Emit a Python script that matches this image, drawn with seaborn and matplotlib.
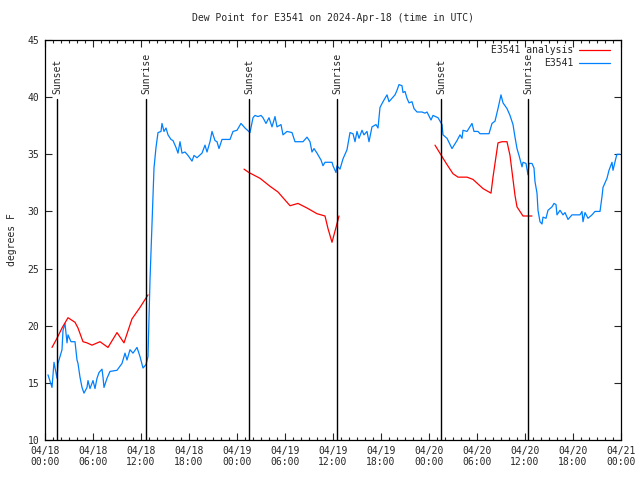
import numpy as np
import pandas as pd
import matplotlib
matplotlib.use("Agg")
import matplotlib.pyplot as plt
from matplotlib.lines import Line2D
import seaborn as sns

# ---- data (hours since 2024-04-18 00:00 UTC) ----
obs_hours = [0.375, 0.875, 1.125, 1.5, 1.625, 2.125, 2.25, 2.5, 2.75, 2.875, 3.25, 3.75, 4.0, 4.125,
             4.375, 4.625, 4.875, 5.25, 5.375, 5.625, 6.0, 6.25, 6.5, 6.75, 7.125, 7.25, 7.375, 7.75,
             8.125, 9.0, 9.625, 10.0, 10.25, 10.625, 11.0, 11.5, 11.875, 12.25, 12.625, 12.875, 13.125,
             13.5, 13.625, 13.875, 14.125, 14.5, 14.625, 14.875, 15.125, 15.375, 15.75, 16.0, 16.375,
             16.625, 16.875, 17.125, 17.5, 17.875, 18.375, 18.625, 19.0, 19.625, 20.0, 20.25, 20.625,
             20.875, 21.25, 21.5, 21.75, 22.125, 23.125, 23.5, 24.0, 24.5, 25.0, 25.625, 26.0, 26.25,
             26.625, 27.0, 27.25, 27.625, 28.0, 28.375, 28.75, 29.0, 29.5, 29.75, 30.25, 30.875, 31.25,
             32.25, 32.75, 33.125, 33.375, 33.625, 34.0, 34.5, 34.75, 35.0, 35.875, 36.0, 36.375, 36.5,
             36.875, 37.25, 37.75, 38.125, 38.5, 38.75, 39.0, 39.25, 39.625, 39.875, 40.25, 40.5, 40.875,
             41.375, 41.625, 41.875, 42.25, 42.75, 43.0, 43.5, 43.75, 44.0, 44.25, 44.625, 44.75, 45.0,
             45.25, 45.5, 45.875, 46.125, 46.5, 47.125, 47.5, 47.75, 48.25, 48.5, 49.125, 49.625, 49.75,
             50.25, 50.875, 51.5, 51.875, 52.125, 52.25, 52.75, 53.375, 53.625, 54.125, 54.375, 55.5,
             55.875, 56.25, 56.625, 57.0, 57.25, 57.75, 58.125, 58.5, 58.75, 59.0, 59.25, 59.625, 59.75,
             60.125, 60.375, 60.5, 60.875, 61.125, 61.25, 61.5, 61.625, 61.875, 62.125, 62.25, 62.625,
             62.875, 63.375, 63.625, 63.875, 64.0, 64.375, 64.75, 65.0, 65.375, 65.875, 66.875, 67.125,
             67.25, 67.5, 67.875, 68.375, 68.75, 69.375, 69.625, 69.75, 70.25, 70.5, 70.875, 71.0,
             71.375, 71.5, 71.875]
obs_dewpt = [15.7, 14.6, 16.8, 15.4, 16.7, 17.9, 19.6, 20.2, 18.5, 19.2, 18.6, 18.6, 17.0, 16.7,
             15.5, 14.6, 14.1, 14.6, 15.2, 14.5, 15.2, 14.5, 15.4, 15.9, 16.2, 15.5, 14.6, 15.4,
             16.0, 16.1, 16.7, 17.6, 17.0, 17.9, 17.6, 18.1, 17.3, 16.3, 16.6, 17.3, 24.0,
             31.3, 33.8, 35.6, 36.9, 37.0, 37.7, 37.0, 37.3, 36.7, 36.3, 36.2, 35.6,
             35.1, 36.1, 35.1, 35.2, 34.9, 34.4, 34.9, 34.7, 35.1, 35.8, 35.2, 36.1,
             37.0, 36.2, 36.1, 35.5, 36.3, 36.3, 37.0, 37.1, 37.7, 37.3, 36.9, 38.2, 38.4,
             38.3, 38.4, 38.2, 37.7, 38.2, 37.4, 38.3, 37.4, 37.6, 36.7, 37.0, 36.9, 36.1,
             36.1, 36.5, 36.1, 35.2, 35.5, 35.1, 34.5, 34.0, 34.3, 34.3, 34.0, 33.4, 34.0,
             33.7, 34.6, 35.4, 36.9, 36.8, 36.1, 37.0, 36.4, 37.1, 36.7, 37.0, 36.1, 37.4,
             37.6, 37.3, 39.1, 39.6, 40.2, 39.6, 40.0, 40.2, 40.6, 41.1, 41.0, 40.4, 40.5,
             39.9, 39.5, 39.6, 39.0, 38.7, 38.7, 38.6, 38.7, 38.0, 38.4, 38.2, 37.6, 36.7,
             36.4, 35.5, 36.2, 36.7, 36.4, 37.1, 37.0, 37.7, 37.0, 37.0, 36.8, 36.8,
             37.7, 37.9, 39.0, 40.2, 39.5, 39.0, 38.4, 37.6, 36.5, 35.5, 34.9, 33.9, 34.3,
             34.2, 33.2, 34.2, 34.2, 33.8, 32.6, 31.6, 30.1, 29.1, 28.9, 29.5, 29.4,
             30.1, 30.4, 30.7, 30.6, 29.7, 30.1, 29.7, 29.9, 29.3, 29.7, 29.7, 30.0,
             29.1, 29.9, 29.4, 29.7, 30.0, 30.0, 31.3, 32.1, 32.9, 33.6, 34.3, 33.6,
             34.7, 35.0, 35.0]

ana_seg1_hours = [0.875, 1.5, 2.125, 2.875, 3.75, 4.125, 4.75, 5.25, 5.875, 6.875, 7.875, 9.0, 9.875,
                  10.875, 11.875, 12.875]
ana_seg1_dewpt = [18.1, 18.9, 19.8, 20.7, 20.3, 19.8, 18.6, 18.5, 18.3, 18.6, 18.1, 19.4, 18.5,
                  20.6, 21.6, 22.7]
ana_seg2_hours = [24.875, 25.5, 26.875, 28.125, 29.125, 29.75, 30.625, 31.625, 32.75, 34.0, 35.0,
                  35.375, 35.875, 36.375, 36.75]
ana_seg2_dewpt = [33.7, 33.4, 32.9, 32.2, 31.7, 31.2, 30.5, 30.7, 30.3, 29.8, 29.6,
                  28.5, 27.3, 28.6, 29.6]
ana_seg3_hours = [48.75, 49.625, 50.25, 51.0, 51.625, 52.75, 53.5, 54.75, 55.75, 56.0, 56.625,
                  57.125, 57.75, 58.125, 58.75, 59.0, 59.75, 60.875]
ana_seg3_dewpt = [35.8, 34.8, 34.1, 33.3, 33.0, 33.0, 32.8, 32.0, 31.6, 33.0, 36.0,
                  36.1, 36.1, 34.9, 31.4, 30.4, 29.6, 29.6]

sun_hours = [1.5, 12.625, 25.5, 36.5, 49.5, 60.375]
sun_labels = ["Sunset", "Sunrise", "Sunset", "Sunrise", "Sunset", "Sunrise"]

tick_hours = [0, 6, 12, 18, 24, 30, 36, 42, 48, 54, 60, 66, 72]
tick_labels = ["04/18\n00:00", "04/18\n06:00", "04/18\n12:00", "04/18\n18:00",
               "04/19\n00:00", "04/19\n06:00", "04/19\n12:00", "04/19\n18:00",
               "04/20\n00:00", "04/20\n06:00", "04/20\n12:00", "04/20\n18:00",
               "04/21\n00:00"]
y_ticks = [10, 15, 20, 25, 30, 35, 40, 45]

title = "Dew Point for E3541 on 2024-Apr-18 (time in UTC)"
obs_name = "E3541"
ana_name = "E3541 analysis"

# ---- plotting ----
sns.set_style("white")
plt.rcParams['font.family'] = ['DejaVu Sans Mono']
plt.rcParams['font.size'] = 7

RED = "#ff0000"
BLUE = "#0080ff"

fig = plt.figure(figsize=(6.4, 4.8), dpi=100)
ax = fig.add_axes([45/640, 40/480, 576/640, 400/480])

obs_df = pd.DataFrame({"hours": obs_hours, "dewpt": obs_dewpt})
sns.lineplot(data=obs_df, x="hours", y="dewpt", ax=ax, color=BLUE, lw=0.9,
             estimator=None, sort=False)

segs = [(ana_seg1_hours, ana_seg1_dewpt), (ana_seg2_hours, ana_seg2_dewpt),
        (ana_seg3_hours, ana_seg3_dewpt)]
for hrs, vals in segs:
    d = pd.DataFrame({"hours": hrs, "dewpt": vals})
    sns.lineplot(data=d, x="hours", y="dewpt", ax=ax, color=RED, lw=0.9,
                 estimator=None, sort=False)

for h, lab in zip(sun_hours, sun_labels):
    ax.plot([h, h], [10, 39.85], color="black", lw=1.0)
    ax.text(h, 40.3, lab, rotation=90, ha="center", va="bottom", fontsize=7)

ax.set_xlim(0, 72)
ax.set_ylim(10, 45)
ax.set_xticks(tick_hours)
ax.set_xticklabels(tick_labels)
ax.set_xticks(np.arange(0, 73, 1), minor=True)
ax.set_yticks(y_ticks)
ax.set_xlabel("")
ax.set_ylabel("degrees F", fontsize=7, labelpad=8)
ax.set_title(title, fontsize=7, pad=14)

ax.tick_params(axis="both", which="major", direction="in", length=5, width=0.8,
               top=True, right=True, bottom=True, left=True, labelsize=7, pad=4)
ax.tick_params(axis="x", which="minor", direction="in", length=2.5, width=0.8,
               top=True, bottom=True)
for s in ax.spines.values():
    s.set_color("black")
    s.set_linewidth(0.9)

handles = [Line2D([0], [0], color=RED, lw=0.9), Line2D([0], [0], color=BLUE, lw=0.9)]
ax.legend(handles, [ana_name, obs_name], loc="upper right", frameon=False,
          markerfirst=False, fontsize=7, handlelength=3.2, handletextpad=0.6,
          borderaxespad=0.0, borderpad=0.1, labelspacing=0.35,
          bbox_to_anchor=(0.983, 0.99))

fig.savefig("out.png", dpi=100)
